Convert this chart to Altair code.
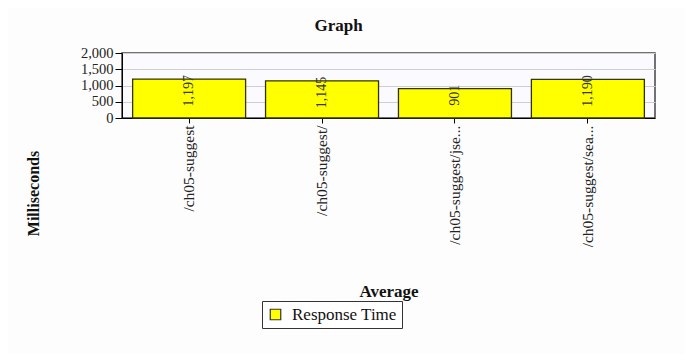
import altair as alt
import pandas as pd

pages = ["/ch05-suggest", "/ch05-suggest/", "/ch05-suggest/jse...", "/ch05-suggest/sea..."]
avg_ms = [1197, 1145, 901, 1190]
series = ["Response Time"] * 4
y_ticks = [0, 500, 1000, 1500, 2000]

df = pd.DataFrame({"page": pages, "ms": avg_ms, "series": series})
df["label"] = df["ms"].map(lambda v: f"{v:,}")

FONT = "Liberation Serif"

x = alt.X("page:N", sort=pages, scale=alt.Scale(paddingInner=0.15, paddingOuter=0.08),
          axis=alt.Axis(title="Average", labelAngle=-90, labelFont=FONT, labelFontSize=15.5,
                        labelColor="#222", labelLimit=300, tickColor="#000", tickSize=5,
                        domainColor="#000", titleFont=FONT, titleFontSize=17,
                        titleFontWeight="bold", titleColor="#111", titleY=165))
y = alt.Y("ms:Q", scale=alt.Scale(domain=[0, 2000]),
          axis=alt.Axis(title="Milliseconds", values=y_ticks,
                        labelExpr="format(datum.value, ',')", labelFont=FONT,
                        labelFontSize=14.5, labelColor="#222", tickColor="#000", tickSize=7,
                        domainColor="#000", gridColor="#cfcfcf", titleFont=FONT,
                        titleFontSize=16, titleFontWeight="bold", titleColor="#111",
                        titleX=-81, titleY=140, labelPadding=2, labelOverlap=False,
                        labelBound=False, labelFlush=False))

bars = alt.Chart(df).mark_bar(stroke="#333300", strokeWidth=1.3).encode(
    x=x, y=y,
    color=alt.Color("series:N", scale=alt.Scale(range=["#ffff00"]),
                    legend=alt.Legend(title=None, orient="none", legendX=140, legendY=248,
                                      strokeColor="#333", padding=5, symbolType="square",
                                      symbolSize=110, symbolStrokeColor="#333",
                                      symbolStrokeWidth=1.2, labelFont=FONT,
                                      labelFontSize=17, labelColor="#111",
                                      labelOffset=8, fillColor="#ffffff")),
)

labels = alt.Chart(df).mark_text(angle=270, align="right", baseline="middle", font=FONT,
                                 fontSize=14, color="#333", dx=4).encode(
    x=x, y=y, text="label:N")

chart = (bars + labels).properties(
    width=533, height=65,
    title=alt.TitleParams("Graph", font=FONT, fontSize=17, fontWeight="bold", color="#111",
                          anchor="middle", dx=-50, offset=10),
    background="#fdfdfd",
    padding={"left": 114, "top": 45, "right": 30, "bottom": 236},
    autosize=alt.AutoSizeParams(type="none"),
).configure_view(stroke="#444", strokeWidth=1.5, fill="#fbfbff")

chart.save("out.html", embed_options={"renderer": "svg", "actions": False})
